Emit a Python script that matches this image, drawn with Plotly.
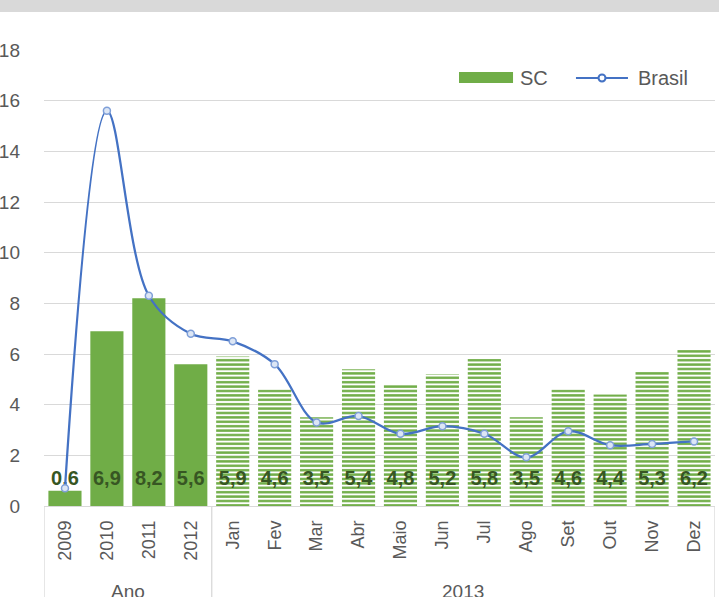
import plotly.graph_objects as go

categories = ["2009", "2010", "2011", "2012", "Jan", "Fev", "Mar", "Abr", "Maio",
              "Jun", "Jul", "Ago", "Set", "Out", "Nov", "Dez"]
groups = ["Ano", "2013"]
group_sizes = [4, 12]
sc_values = [0.6, 6.9, 8.2, 5.6, 5.9, 4.6, 3.5, 5.4, 4.8, 5.2, 5.8, 3.5, 4.6, 4.4, 5.3, 6.2]
brasil_values = [0.7, 15.6, 8.3, 6.8, 6.5, 5.6, 3.3, 3.55, 2.85, 3.15, 2.85, 1.92, 2.95, 2.4, 2.45, 2.55]
y_ticks = [0, 2, 4, 6, 8, 10, 12, 14, 16, 18]

GREEN = "#70AD47"
BLUE = "#4472C4"
GRID = "#D9D9D9"
TEXT = "#595959"
LABEL = "#375623"
FONT = "Liberation Sans, Arial, sans-serif"

patterns = [""] * group_sizes[0] + ["-"] * group_sizes[1]
labels = [f"{v:.1f}".replace(".", ",") for v in sc_values]

fig = go.Figure()
fig.add_trace(go.Bar(
    x=categories,
    y=sc_values,
    name="SC",
    marker=dict(
        color=GREEN,
        line=dict(width=0),
        pattern=dict(shape=patterns, fgcolor=GREEN, bgcolor="white",
                     size=4.4, solidity=0.55, fillmode="replace"),
    ),
    showlegend=False,
))
fig.add_trace(go.Scatter(
    x=categories,
    y=[1.03] * len(categories),
    mode="text",
    text=labels,
    textfont=dict(family=FONT, size=20, color=LABEL, weight="bold"),
    showlegend=False,
    hoverinfo="skip",
))
fig.add_trace(go.Scatter(
    x=categories,
    y=brasil_values,
    name="Brasil",
    mode="lines+markers",
    line=dict(color=BLUE, width=2.25, shape="spline", smoothing=1),
    marker=dict(symbol="circle", size=7, color="#DCE6F5",
                line=dict(color="#7F9FD8", width=1.5)),
    showlegend=False,
))

shapes = [
    # grey band along the top
    dict(type="rect", xref="paper", yref="paper", x0=-0.1, x1=1.1,
         y0=1.0833, y1=1.12, fillcolor=GRID, line=dict(width=0), layer="below"),
]
# category group box lines
edge = -0.5
for size in group_sizes:
    shapes.append(dict(type="line", xref="x", yref="paper", x0=edge, x1=edge,
                       y0=0, y1=-0.25, line=dict(color=GRID, width=1.3)))
    edge += size
shapes.append(dict(type="line", xref="x", yref="paper", x0=edge, x1=edge,
                   y0=0, y1=-0.25, line=dict(color=GRID, width=1.3)))

# legend (drawn by hand to match the wide swatch)
shapes += [
    dict(type="rect", xref="paper", yref="paper", x0=0.6185, x1=0.699,
         y0=0.9276, y1=0.9518, fillcolor=GREEN, line=dict(width=0)),
    dict(type="line", xref="paper", yref="paper", x0=0.7928, x1=0.8703,
         y0=0.9386, y1=0.9386, line=dict(color=BLUE, width=2)),
    dict(type="circle", xref="paper", yref="paper", x0=0.8264, x1=0.8368,
         y0=0.9310, y1=0.9462, fillcolor="white", line=dict(color=BLUE, width=2)),
]

annotations = [
    dict(text="SC", xref="paper", yref="paper", x=0.7064, y=0.9386,
         xanchor="left", yanchor="middle", showarrow=False,
         font=dict(family=FONT, size=20, color=TEXT)),
    dict(text="Brasil", xref="paper", yref="paper", x=0.8823, y=0.9386,
         xanchor="left", yanchor="middle", showarrow=False,
         font=dict(family=FONT, size=20, color=TEXT)),
]
start = 0
for name, size in zip(groups, group_sizes):
    annotations.append(dict(
        text=name, xref="x", yref="paper", x=start + (size - 1) / 2, y=-0.16,
        xanchor="center", yanchor="top", showarrow=False,
        font=dict(family=FONT, size=19, color=TEXT),
    ))
    start += size

fig.update_layout(
    width=719,
    height=597,
    margin=dict(l=44, r=4, t=50, b=91),
    paper_bgcolor="white",
    plot_bgcolor="white",
    bargap=0.21,
    font=dict(family=FONT, color=TEXT),
    shapes=shapes,
    annotations=annotations,
    xaxis=dict(
        type="category",
        range=[-0.5, len(categories) - 0.5],
        tickangle=-90,
        tickfont=dict(family=FONT, size=18, color=TEXT),
        ticklabelstandoff=10,
        showgrid=False,
        showline=False,
        ticks="",
        fixedrange=True,
        automargin=False,
    ),
    yaxis=dict(
        range=[0, 18],
        tickvals=y_ticks,
        tickfont=dict(family=FONT, size=19, color=TEXT),
        ticklabelstandoff=23,
        showgrid=True,
        gridcolor=GRID,
        gridwidth=1.3,
        zeroline=True,
        zerolinecolor=GRID,
        zerolinewidth=1.3,
        showline=False,
        ticks="",
        fixedrange=True,
        automargin=False,
    ),
)

fig.write_html(
    "out.html",
    config={"displayModeBar": False},
    post_script="document.body.style.margin='0';document.body.style.overflow='hidden';",
)
